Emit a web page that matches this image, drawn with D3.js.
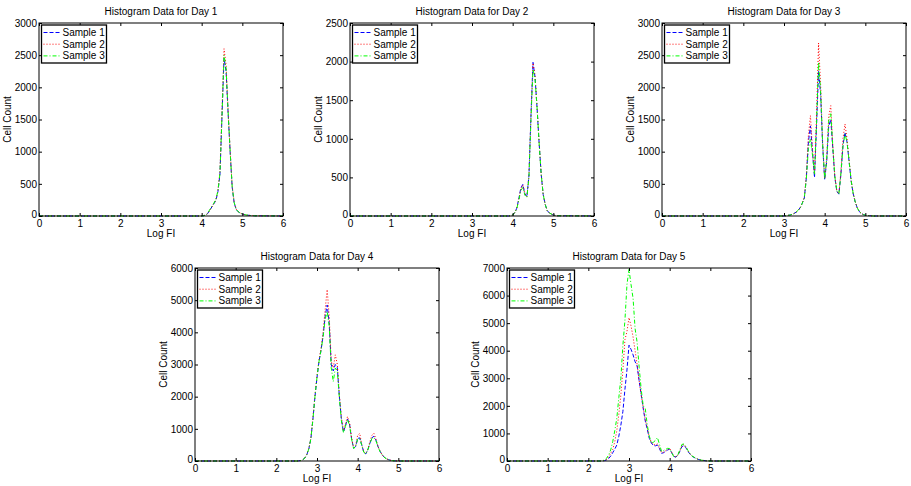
<!DOCTYPE html>
<html>
<head>
<meta charset="utf-8">
<script src="https://cdn.jsdelivr.net/npm/d3@7"></script>
<style>
  body { margin: 0; background: #fff; }
  svg { font-family: "Liberation Sans", Arial, sans-serif; }
</style>
</head>
<body>
<svg width="911" height="486"></svg>
<script>
'use strict';

var xTicks = [0, 1, 2, 3, 4, 5, 6];
var sampleNames = ['Sample 1', 'Sample 2', 'Sample 3'];
var dayTitles = ['Histogram Data for Day 1', 'Histogram Data for Day 2', 'Histogram Data for Day 3',
  'Histogram Data for Day 4', 'Histogram Data for Day 5'];
var yMax = [3000, 2500, 3000, 6000, 7000];
var yStep = [500, 500, 500, 1000, 1000];

// day 1
var bins1 = [0, 4.00, 4.05, 4.10, 4.15, 4.20, 4.25, 4.30, 4.35, 4.40, 4.45, 4.50, 4.55, 4.60, 4.65, 4.70, 4.75, 4.80, 4.85, 4.90, 4.95, 5.00, 5.10, 5.20, 5.30, 6];
var day1s1 = [0, 0, 5, 15, 40, 90, 140, 190, 240, 380, 650, 1550, 2450, 2250, 1600, 1000, 450, 200, 100, 65, 45, 30, 15, 8, 3, 0];
var day1s2 = [0, 0, 5, 15, 40, 90, 140, 195, 250, 400, 700, 1650, 2600, 2350, 1650, 1030, 470, 210, 105, 68, 46, 30, 15, 8, 3, 0];
var day1s3 = [0, 0, 5, 15, 45, 100, 150, 200, 260, 390, 660, 1550, 2500, 2300, 1620, 1010, 460, 205, 102, 66, 45, 30, 15, 8, 3, 0];

// day 2
var bins2 = [0, 3.90, 3.95, 4.00, 4.05, 4.10, 4.15, 4.20, 4.25, 4.30, 4.35, 4.40, 4.45, 4.50, 4.55, 4.60, 4.65, 4.70, 4.75, 4.80, 4.85, 4.90, 5.00, 5.10, 6];
var day2s1 = [0, 0, 5, 15, 40, 100, 220, 360, 410, 290, 250, 520, 1300, 1990, 1800, 1400, 950, 550, 280, 150, 70, 40, 12, 3, 0];
var day2s2 = [0, 0, 5, 15, 40, 100, 215, 350, 400, 285, 250, 520, 1300, 1980, 1820, 1420, 960, 555, 280, 150, 70, 40, 12, 3, 0];
var day2s3 = [0, 0, 5, 15, 40, 95, 200, 330, 370, 270, 240, 500, 1250, 1900, 1780, 1400, 950, 550, 280, 150, 70, 40, 12, 3, 0];

// day 3
var bins3 = [0, 3.00, 3.05, 3.10, 3.15, 3.20, 3.25, 3.30, 3.35, 3.40, 3.45, 3.50, 3.55, 3.60, 3.65, 3.70, 3.75, 3.80, 3.85, 3.90, 3.95, 4.00, 4.05, 4.10, 4.15, 4.20, 4.25, 4.30, 4.35, 4.40, 4.45, 4.50, 4.55, 4.60, 4.65, 4.70, 4.75, 4.80, 4.85, 4.90, 4.95, 5.00, 5.10, 5.20, 6];
var day3s1 = [0, 0, 5, 10, 15, 25, 40, 60, 90, 130, 200, 280, 600, 1150, 1400, 1000, 600, 1400, 2250, 1900, 1100, 560, 850, 1400, 1500, 1050, 600, 380, 340, 650, 1100, 1300, 1150, 850, 550, 350, 220, 130, 70, 40, 22, 12, 5, 0, 0];
var day3s2 = [0, 0, 5, 10, 15, 25, 40, 60, 90, 130, 200, 290, 640, 1250, 1560, 1050, 650, 1550, 2690, 2050, 1150, 580, 900, 1550, 1715, 1100, 620, 390, 350, 700, 1200, 1430, 1200, 880, 560, 360, 225, 130, 70, 40, 22, 12, 5, 0, 0];
var day3s3 = [0, 0, 5, 10, 15, 25, 40, 60, 90, 130, 200, 280, 580, 1050, 1200, 950, 650, 1450, 2390, 1950, 1120, 580, 880, 1480, 1590, 1080, 610, 390, 350, 660, 1080, 1275, 1150, 860, 560, 355, 222, 130, 70, 40, 22, 12, 5, 0, 0];

// day 4
var bins4 = [0, 2.50, 2.55, 2.60, 2.65, 2.70, 2.75, 2.80, 2.85, 2.90, 2.95, 3.00, 3.05, 3.10, 3.15, 3.20, 3.25, 3.30, 3.35, 3.40, 3.45, 3.50, 3.55, 3.60, 3.65, 3.70, 3.75, 3.80, 3.85, 3.90, 3.95, 4.00, 4.05, 4.10, 4.15, 4.20, 4.25, 4.30, 4.35, 4.40, 4.45, 4.50, 4.55, 4.60, 4.65, 4.70, 4.75, 4.80, 4.85, 4.90, 5.00, 6];
var day4s1 = [0, 0, 5, 15, 40, 90, 200, 380, 700, 1300, 2000, 2600, 3100, 3450, 3900, 4500, 4850, 4300, 3000, 2800, 3000, 2900, 2000, 1300, 900, 1100, 1300, 1150, 700, 400, 450, 700, 720, 500, 280, 220, 350, 550, 720, 770, 650, 450, 300, 200, 120, 75, 45, 25, 12, 5, 0, 0];
var day4s2 = [0, 0, 5, 15, 40, 95, 210, 400, 730, 1350, 2050, 2650, 3150, 3500, 4000, 4700, 5330, 4500, 3100, 2900, 3300, 3000, 2050, 1350, 950, 1150, 1380, 1200, 720, 410, 480, 800, 860, 520, 290, 230, 370, 600, 800, 860, 680, 460, 305, 200, 120, 75, 45, 25, 12, 5, 0, 0];
var day4s3 = [0, 0, 5, 15, 40, 90, 200, 380, 700, 1300, 2000, 2600, 3100, 3450, 3850, 4400, 4650, 4200, 2900, 2470, 2890, 2800, 1950, 1250, 880, 1080, 1280, 1120, 680, 390, 440, 680, 700, 490, 270, 215, 340, 540, 700, 720, 630, 440, 295, 200, 120, 75, 45, 25, 12, 5, 0, 0];

// day 5
var bins5 = [0, 2.30, 2.35, 2.40, 2.45, 2.50, 2.55, 2.60, 2.65, 2.70, 2.75, 2.80, 2.85, 2.90, 2.95, 3.00, 3.05, 3.10, 3.15, 3.20, 3.25, 3.30, 3.35, 3.40, 3.45, 3.50, 3.55, 3.60, 3.65, 3.70, 3.75, 3.80, 3.85, 3.90, 3.95, 4.00, 4.05, 4.10, 4.15, 4.20, 4.25, 4.30, 4.35, 4.40, 4.45, 4.50, 4.55, 4.60, 4.65, 4.70, 4.75, 4.80, 4.90, 5.00, 6];
var day5s1 = [0, 0, 5, 15, 40, 90, 180, 300, 430, 580, 900, 1300, 1800, 2600, 3300, 4200, 4050, 3850, 3600, 3450, 2900, 2400, 1900, 1450, 1150, 820, 650, 560, 550, 580, 450, 280, 300, 350, 400, 430, 300, 170, 140, 200, 350, 520, 560, 480, 350, 250, 170, 130, 90, 60, 40, 25, 8, 0, 0];
var day5s2 = [0, 0, 5, 20, 60, 150, 280, 420, 700, 1100, 1700, 2400, 3300, 4400, 4700, 5200, 4900, 4500, 4000, 3500, 2900, 2400, 1950, 1500, 1200, 850, 680, 600, 580, 620, 480, 300, 320, 370, 420, 460, 320, 180, 150, 210, 370, 550, 600, 500, 370, 260, 180, 135, 95, 62, 40, 25, 8, 0, 0];
var day5s3 = [0, 0, 10, 40, 100, 220, 400, 700, 1100, 1550, 2300, 3000, 4200, 5100, 6400, 6950, 6400, 5900, 4800, 4300, 3400, 2600, 2000, 1900, 1300, 900, 650, 680, 750, 850, 600, 350, 380, 420, 460, 450, 300, 160, 150, 220, 400, 600, 620, 520, 380, 270, 180, 140, 95, 62, 40, 25, 8, 0, 0];

var days = [
  {bins: bins1, series: [day1s1, day1s2, day1s3]},
  {bins: bins2, series: [day2s1, day2s2, day2s3]},
  {bins: bins3, series: [day3s1, day3s2, day3s3]},
  {bins: bins4, series: [day4s1, day4s2, day4s3]},
  {bins: bins5, series: [day5s1, day5s2, day5s3]}
];

// panel placement (left, top) in figure pixels
var panelPos = [[39, 23], [350, 23], [662, 23], [195, 268], [507, 268]];
var W = 244, H = 193;

var colors = ['#0000ff', '#ff0000', '#00ff00'];
var dashes = ['4,2', '1,2', '4,2,1,2'];
var fmt = d3.format('d');

var svg = d3.select('svg');

days.forEach((day, k) => {
  var g = svg.append('g')
    .attr('transform', `translate(${panelPos[k][0]}, ${panelPos[k][1]})`);

  var x = d3.scaleLinear().domain([0, 6]).range([0, W]);
  var y = d3.scaleLinear().domain([0, yMax[k]]).range([H, 0]);
  var yTicks = d3.range(0, yMax[k] + 1, yStep[k]);

  g.append('rect')
    .attr('width', W).attr('height', H)
    .attr('fill', '#fff');

  var line = d3.line()
    .x((d, i) => x(day.bins[i]))
    .y(d => y(d));

  day.series.forEach((s, j) => {
    g.append('path')
      .datum(s)
      .attr('d', line)
      .attr('fill', 'none')
      .attr('stroke', colors[j])
      .attr('stroke-width', 1)
      .attr('stroke-dasharray', dashes[j]);
  });

  // axes, ticks pointing inward on all four sides
  var bottom = g.append('g').attr('transform', `translate(0, ${H})`)
    .call(d3.axisBottom(x).tickValues(xTicks).tickFormat(fmt).tickSizeInner(-3).tickSizeOuter(0).tickPadding(4));
  var left = g.append('g')
    .call(d3.axisLeft(y).tickValues(yTicks).tickFormat(fmt).tickSizeInner(-3).tickSizeOuter(0).tickPadding(2));
  g.append('g')
    .call(d3.axisTop(x).tickValues(xTicks).tickSizeInner(-3).tickSizeOuter(0).tickFormat(''));
  g.append('g').attr('transform', `translate(${W}, 0)`)
    .call(d3.axisRight(y).tickValues(yTicks).tickSizeInner(-3).tickSizeOuter(0).tickFormat(''));

  g.selectAll('.domain').remove();
  g.selectAll('.tick line').attr('stroke', '#000');
  [bottom, left].forEach(a => a.selectAll('text')
    .attr('font-size', 10)
    .attr('font-family', '"Liberation Sans", Arial, sans-serif')
    .attr('fill', '#000'));
  // the y "0" sits a little high so it clears the x "0"
  left.selectAll('.tick').filter(d => d === 0).select('text').attr('dy', '0.1em');

  g.append('rect')
    .attr('width', W).attr('height', H)
    .attr('fill', 'none')
    .attr('stroke', '#000')
    .attr('stroke-width', 1);

  g.append('text')
    .attr('x', W / 2).attr('y', -8)
    .attr('text-anchor', 'middle')
    .attr('font-size', 10)
    .text(dayTitles[k]);

  g.append('text')
    .attr('x', W / 2).attr('y', H + 21)
    .attr('text-anchor', 'middle')
    .attr('font-size', 10)
    .text('Log FI');

  g.append('text')
    .attr('transform', `translate(-28, ${H / 2}) rotate(-90)`)
    .attr('text-anchor', 'middle')
    .attr('font-size', 10)
    .text('Cell Count');

  // legend
  var lg = g.append('g').attr('transform', 'translate(2.5, 2)');
  lg.append('rect')
    .attr('width', 65).attr('height', 38)
    .attr('fill', '#fff')
    .attr('stroke', '#000')
    .attr('stroke-width', 1.3);
  sampleNames.forEach((name, j) => {
    var yy = 7.5 + j * 11.7;
    lg.append('line')
      .attr('x1', 2).attr('x2', 20)
      .attr('y1', yy).attr('y2', yy)
      .attr('stroke', colors[j])
      .attr('stroke-width', 1)
      .attr('stroke-dasharray', dashes[j]);
    lg.append('text')
      .attr('x', 21).attr('y', yy + 3.5)
      .attr('font-size', 10)
      .text(name);
  });
});
</script>
</body>
</html>
